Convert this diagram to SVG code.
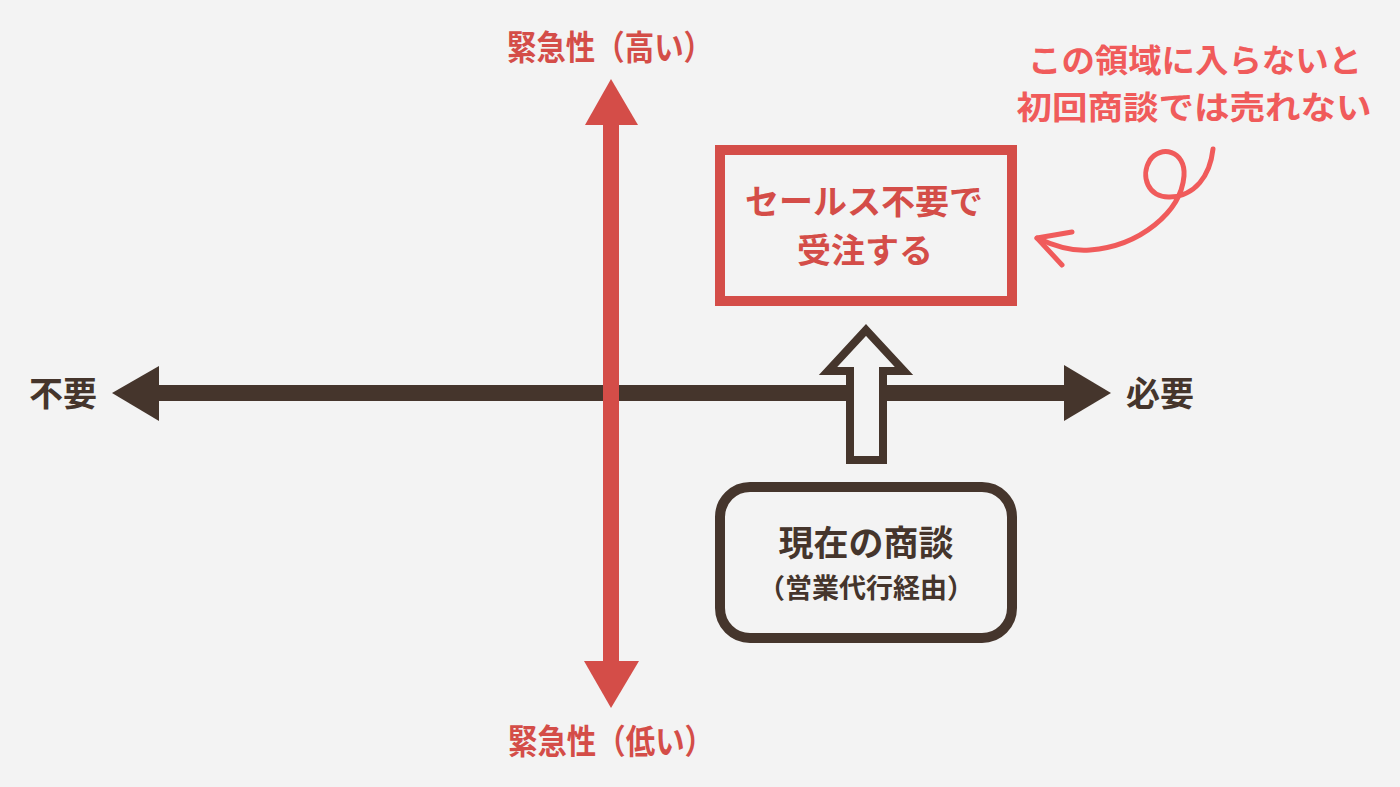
<svg xmlns="http://www.w3.org/2000/svg" width="1400" height="787" viewBox="0 0 1400 787">
<style>
.t{font-family:"Noto Sans CJK JP","Noto Sans",sans-serif;font-weight:700;text-anchor:middle}
.brown{fill:#45352c}
.red{fill:#d44d48}
.coral{fill:#f05b5b}
</style>
<rect width="1400" height="787" fill="#f3f3f3"/>
<g id="connectors">
<g id="h-axis" fill="#45352c">
<rect x="150" y="385" width="920" height="16"/>
<polygon points="112,393 159,366 159,421"/>
<polygon points="1111,393 1064,365 1064,421"/>
</g>
<g id="v-axis" fill="#d44d48">
<rect x="603" y="118" width="16" height="550"/>
<polygon points="611,79 585,125 638,125"/>
<polygon points="611,708 584,661 639,661"/>
</g>
<g id="hollow-arrow">
<polygon points="866,330 904,371 883,371 883,460 850,460 850,371 828,371" fill="#f3f3f3" stroke="#45352c" stroke-width="8" stroke-linejoin="miter"/>
</g>
<g id="curly-arrow" fill="none" stroke="#f05b5b" stroke-width="5" stroke-linecap="round" stroke-linejoin="round">
<path d="M1213,149 C1210,176 1195,196 1170,197 C1148,198 1140,176 1150,160 C1160,145 1186,150 1184,176 C1181,212 1140,246 1090,250 C1070,252 1052,245 1037,238"/>
<path d="M1072,232 L1037,238 L1062,265"/>
</g>
</g>
<g id="label-high"><text class="t red" x="610" y="60" font-size="34" textLength="206" lengthAdjust="spacingAndGlyphs">緊急性（高い）</text></g>
<g id="label-low"><text class="t red" x="611" y="754" font-size="34" textLength="206" lengthAdjust="spacingAndGlyphs">緊急性（低い）</text></g>
<g id="label-unneeded"><text class="t brown" x="63" y="406" font-size="34" font-weight="600">不要</text></g>
<g id="label-needed"><text class="t brown" x="1160" y="406" font-size="34" font-weight="600">必要</text></g>
<g id="node-goal">
<rect x="720" y="150" width="292" height="151" fill="none" stroke="#d44d48" stroke-width="10"/>
<text class="t red" x="864" y="214" font-size="34" font-weight="500">セールス不要で</text>
<text class="t red" x="865" y="263" font-size="34" font-weight="500">受注する</text>
</g>
<g id="node-current">
<rect x="720" y="487" width="292" height="151" rx="30" fill="none" stroke="#45352c" stroke-width="10"/>
<text class="t brown" x="866" y="556" font-size="35" font-weight="600">現在の商談</text>
<text class="t brown" x="866" y="598" font-size="27" font-weight="500">（営業代行経由）</text>
</g>
<g id="annotation">
<text class="t coral" x="1195" y="72" font-size="32" textLength="334" lengthAdjust="spacingAndGlyphs">この領域に入らないと</text>
<text class="t coral" x="1194" y="119" font-size="32" textLength="355" lengthAdjust="spacingAndGlyphs">初回商談では売れない</text>
</g>
</svg>
